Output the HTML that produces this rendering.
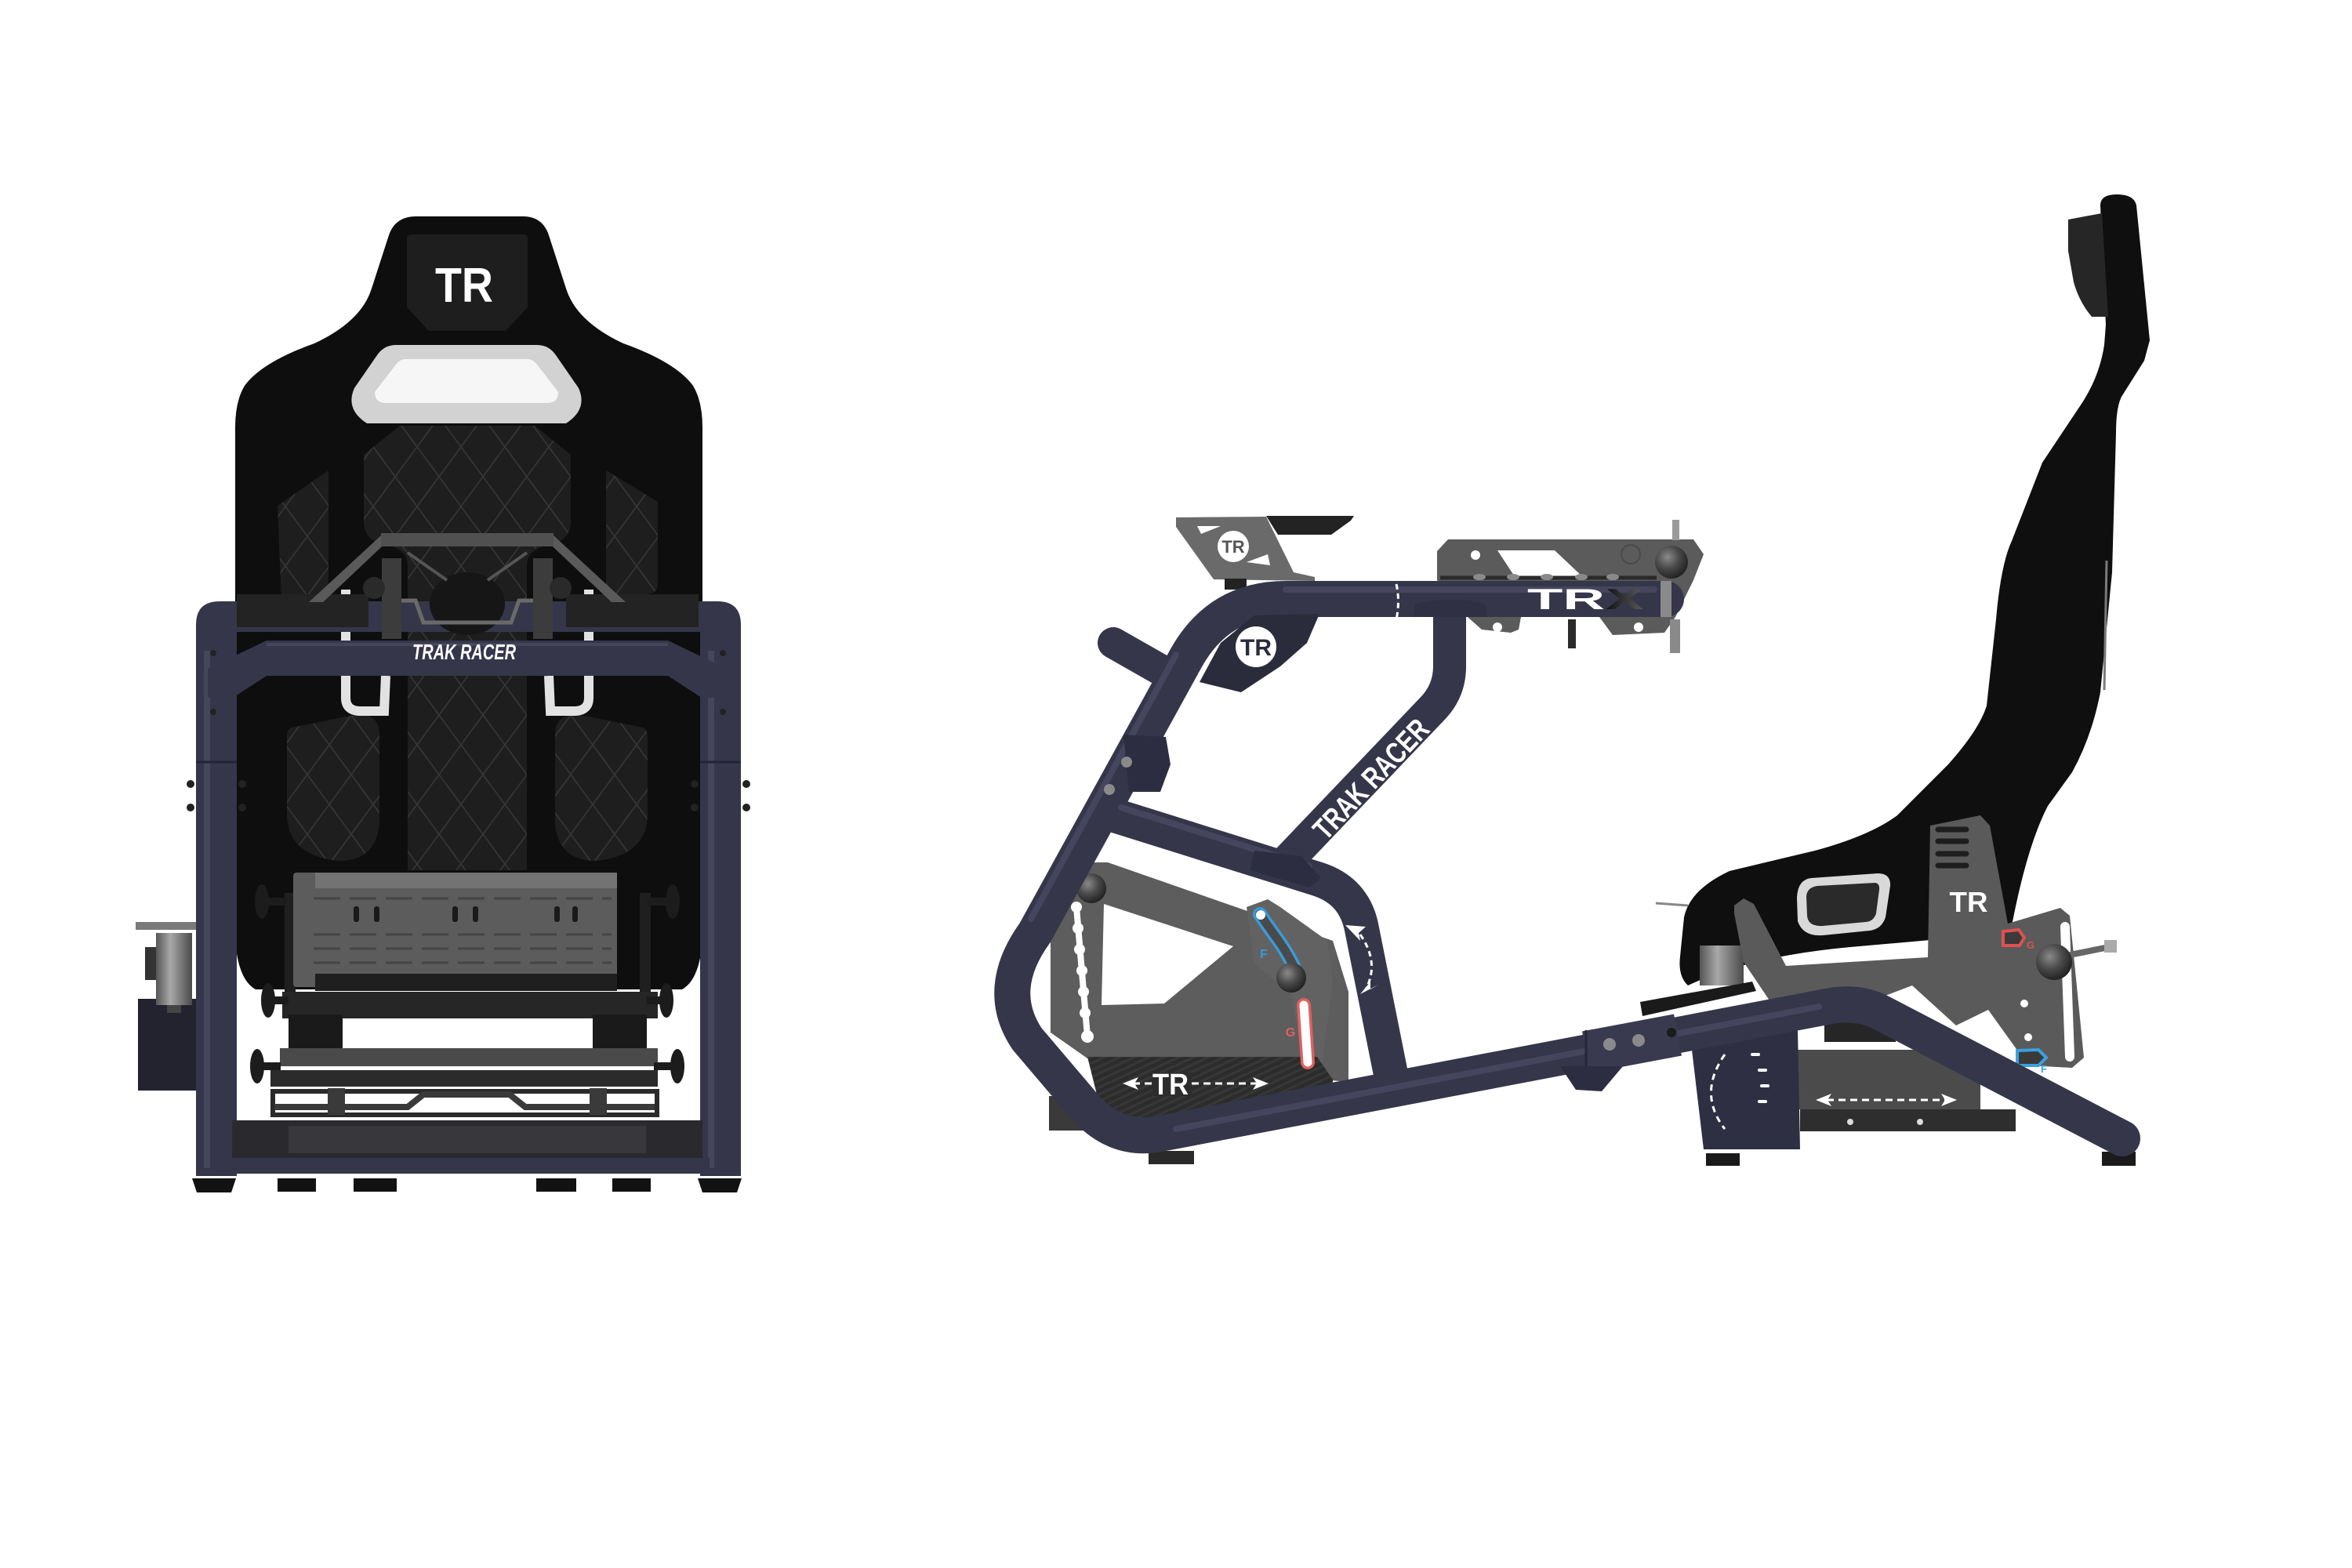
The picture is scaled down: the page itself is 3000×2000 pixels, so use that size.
<!DOCTYPE html>
<html>
<head>
<meta charset="utf-8">
<style>
html,body{margin:0;padding:0;background:#ffffff;}
svg{display:block}
</style>
</head>
<body>
<svg width="3000" height="2000" viewBox="0 0 3000 2000" xmlns="http://www.w3.org/2000/svg">
<defs>
  <pattern id="q" width="56" height="76" patternUnits="userSpaceOnUse">
    <rect width="56" height="76" fill="#1e1e1e"/>
    <path d="M0 0L56 76M56 0L0 76" stroke="#363636" stroke-width="1.6"/>
  </pattern>
  <pattern id="cf" width="8" height="8" patternUnits="userSpaceOnUse" patternTransform="rotate(65)">
    <rect width="8" height="8" fill="#2c2c2c"/>
    <rect width="3" height="8" fill="#373737"/>
  </pattern>
  <radialGradient id="ball" cx="0.38" cy="0.35" r="0.7">
    <stop offset="0" stop-color="#8a8a8a"/>
    <stop offset="0.5" stop-color="#4a4a4a"/>
    <stop offset="1" stop-color="#1e1e1e"/>
  </radialGradient>
  <linearGradient id="cyl" x1="0" x2="1" y1="0" y2="0">
    <stop offset="0" stop-color="#555"/>
    <stop offset="0.4" stop-color="#a8a8a8"/>
    <stop offset="1" stop-color="#4a4a4a"/>
  </linearGradient>
  <linearGradient id="xg" x1="0" x2="1" y1="0" y2="0">
    <stop offset="0" stop-color="#111"/>
    <stop offset="1" stop-color="#5a5a5a"/>
  </linearGradient>
</defs>

<rect width="3000" height="2000" fill="#ffffff"/>

<!-- ================= LEFT (FRONT) VIEW ================= -->
<path d="M531 276 L667 276 Q692 276 700 300 L722 368 Q735 410 795 438 Q862 462 884 492 Q896 512 896 545 L896 1200 Q892 1250 870 1262 L326 1262 Q304 1250 300 1200 L300 545 Q300 512 312 492 Q334 462 401 438 Q461 410 474 368 L496 300 Q504 276 531 276 Z" fill="#0e0e0e"/>
<path d="M525 299 L667 299 Q673 299 673 305 L673 392 L645 422 L547 422 L519 392 L519 305 Q519 299 525 299 Z" fill="#1e1e1e"/>
<text x="592" y="385" font-family="Liberation Sans, sans-serif" font-weight="bold" font-size="62" fill="#ffffff" text-anchor="middle" textLength="74" lengthAdjust="spacingAndGlyphs">TR</text>
<path d="M505 440 L685 440 Q700 440 709 453 L738 495 Q750 522 722 540 L468 540 Q440 522 452 495 L481 453 Q490 440 505 440 Z" fill="#d2d2d2"/>
<path d="M518 458 L672 458 Q680 458 685 465 L712 500 Q712 514 698 514 L492 514 Q478 514 478 500 L505 465 Q510 458 518 458 Z" fill="#f6f6f6"/>
<path d="M510 543 L682 543 L728 580 L728 665 Q728 690 700 695 Q672 700 672 722 L672 1110 L520 1110 L520 722 Q520 700 492 695 Q464 690 464 665 L464 580 Z" fill="url(#q)"/>
<path d="M419 600 L419 775 L370 800 Q360 800 360 790 L354 645 Z" fill="url(#q)"/>
<path d="M773 600 L839 640 L839 745 Q839 755 830 757 L773 770 Z" fill="url(#q)"/>
<path d="M372 928 L452 912 Q482 908 484 935 L484 1050 Q480 1098 432 1098 Q368 1092 366 1040 L366 940 Q366 930 372 928 Z" fill="url(#q)"/>
<path d="M820 928 L740 912 Q710 908 708 935 L708 1050 Q712 1098 760 1098 Q824 1092 826 1040 L826 940 Q826 930 820 928 Z" fill="url(#q)"/>
<path d="M441 752 L441 890 Q441 906 458 907 L490 907 L492 862" stroke="#e2e2e2" stroke-width="12" fill="none"/>
<path d="M751 752 L751 890 Q751 906 734 907 L702 907 L700 862" stroke="#e2e2e2" stroke-width="12" fill="none"/>

<!-- shifter mount -->
<path d="M176 1274 L302 1274 L302 1355 L262 1391 L176 1391 Z" fill="#22232f"/>
<rect x="173" y="1176" width="89" height="10" fill="#7a7a7a"/>
<rect x="199" y="1190" width="46" height="92" fill="url(#cyl)"/>
<rect x="185" y="1208" width="14" height="42" fill="#333"/>
<rect x="213" y="1282" width="18" height="10" fill="#444"/>

<!-- slider assembly -->
<rect x="363" y="1139" width="14" height="143" fill="#1f1f1f"/>
<rect x="816" y="1139" width="14" height="143" fill="#1f1f1f"/>
<rect x="374" y="1113" width="413" height="146" rx="4" fill="#5c5c5c"/>
<rect x="402" y="1113" width="385" height="20" fill="#737373"/>
<rect x="402" y="1242" width="385" height="22" fill="#1f1f1f"/>
<g stroke="#454545" stroke-width="3" stroke-dasharray="34 12">
  <line x1="400" y1="1146" x2="780" y2="1146"/>
  <line x1="400" y1="1192" x2="780" y2="1192"/>
  <line x1="400" y1="1210" x2="780" y2="1210"/>
  <line x1="400" y1="1228" x2="780" y2="1228"/>
</g>
<g fill="#1a1a1a">
  <rect x="451" y="1156" width="7" height="20" rx="3"/>
  <rect x="477" y="1156" width="7" height="20" rx="3"/>
  <rect x="577" y="1156" width="7" height="20" rx="3"/>
  <rect x="603" y="1156" width="7" height="20" rx="3"/>
  <rect x="707" y="1156" width="7" height="20" rx="3"/>
  <rect x="730" y="1156" width="7" height="20" rx="3"/>
</g>
<rect x="360" y="1265" width="479" height="34" fill="#262626"/>
<rect x="368" y="1294" width="69" height="43" fill="#1a1a1a"/>
<rect x="756" y="1294" width="69" height="43" fill="#1a1a1a"/>
<rect x="357" y="1337" width="482" height="23" fill="#4a4a4a"/>
<rect x="345" y="1365" width="494" height="21" fill="#2b2b2b"/>
<rect x="348" y="1392" width="490" height="30" fill="none" stroke="#2a2a2a" stroke-width="6"/>
<path d="M350 1412 L520 1412 L540 1396 L650 1396 L670 1412 L835 1412" stroke="#3a3a3a" stroke-width="8" fill="none"/>
<rect x="418" y="1388" width="22" height="34" fill="#3a3a3a"/>
<rect x="752" y="1388" width="22" height="34" fill="#3a3a3a"/>
<g fill="#1c1c1c">
  <rect x="338" y="1145" width="28" height="10"/><ellipse cx="334" cy="1150" rx="9" ry="22"/>
  <rect x="826" y="1145" width="28" height="10"/><ellipse cx="858" cy="1150" rx="9" ry="22"/>
  <rect x="344" y="1271" width="24" height="10"/><ellipse cx="342" cy="1276" rx="9" ry="22"/>
  <rect x="824" y="1271" width="24" height="10"/><ellipse cx="850" cy="1276" rx="9" ry="22"/>
  <rect x="330" y="1355" width="28" height="10"/><ellipse cx="328" cy="1360" rx="9" ry="22"/>
  <rect x="834" y="1355" width="28" height="10"/><ellipse cx="864" cy="1360" rx="9" ry="22"/>
</g>

<!-- frame -->
<path d="M250 1500 L250 797 Q250 767 280 767 L915 767 Q945 767 945 797 L945 1500 L893 1500 L893 806 L302 806 L302 1500 Z" fill="#35364a"/>
<line x1="264" y1="830" x2="264" y2="1490" stroke="#45465c" stroke-width="8"/>
<line x1="907" y1="830" x2="907" y2="1490" stroke="#45465c" stroke-width="8"/>
<line x1="250" y1="972" x2="302" y2="972" stroke="#23243a" stroke-width="3"/>
<line x1="893" y1="972" x2="945" y2="972" stroke="#23243a" stroke-width="3"/>
<g fill="#222">
  <circle cx="243" cy="1000" r="5"/><circle cx="243" cy="1030" r="5"/>
  <circle cx="309" cy="1000" r="5"/><circle cx="309" cy="1030" r="5"/>
  <circle cx="886" cy="1000" r="5"/><circle cx="886" cy="1030" r="5"/>
  <circle cx="952" cy="1000" r="5"/><circle cx="952" cy="1030" r="5"/>
</g>
<path d="M302 758 L470 758 L470 800 L302 800 Z" fill="#232323"/>
<path d="M722 758 L891 758 L891 800 L722 800 Z" fill="#232323"/>
<ellipse cx="596" cy="770" rx="48" ry="40" fill="#161616"/>
<path d="M520 705 L570 740 M672 705 L622 740" stroke="#555" stroke-width="4"/>
<path d="M486 683 L502 683 L412 768 L394 768 Z" fill="#5a5a5a"/>
<path d="M706 683 L690 683 L780 768 L798 768 Z" fill="#5a5a5a"/>
<rect x="486" y="680" width="220" height="17" fill="#505050"/>
<rect x="487" y="712" width="25" height="103" fill="#3c3c3c"/>
<rect x="680" y="712" width="25" height="103" fill="#3c3c3c"/>
<circle cx="477" cy="750" r="14" fill="#2a2a2a"/>
<circle cx="715" cy="750" r="14" fill="#2a2a2a"/>
<path d="M512 766 L530 766 L540 794 L652 794 L662 766 L680 766" stroke="#6a6a6a" stroke-width="5" fill="none"/>
<path d="M265 853 L340 817 L852 817 L927 853 L927 890 L895 890 L852 862 L340 862 L297 890 L265 890 Z" fill="#35364a"/>
<line x1="340" y1="822" x2="852" y2="822" stroke="#45465c" stroke-width="4"/>
<text x="592" y="841" font-family="Liberation Sans, sans-serif" font-weight="bold" font-style="italic" font-size="28" fill="#ffffff" text-anchor="middle" textLength="132" lengthAdjust="spacingAndGlyphs">TRAK RACER</text>
<g fill="#222"><circle cx="272" cy="833" r="4"/><circle cx="272" cy="908" r="4"/><circle cx="922" cy="833" r="4"/><circle cx="922" cy="908" r="4"/></g>
<rect x="296" y="1429" width="600" height="48" fill="#2a2a2e"/>
<rect x="368" y="1436" width="456" height="35" fill="#38383c"/>
<rect x="288" y="1477" width="617" height="20" fill="#35364a"/>
<g fill="#121212">
  <path d="M245 1503 L301 1503 L295 1521 L251 1521 Z"/>
  <rect x="354" y="1503" width="49" height="17"/>
  <rect x="451" y="1503" width="55" height="17"/>
  <rect x="684" y="1503" width="51" height="17"/>
  <rect x="781" y="1503" width="49" height="17"/>
  <path d="M890 1503 L946 1503 L940 1521 L896 1521 Z"/>
</g>

<!-- ================= RIGHT (SIDE) VIEW ================= -->
<rect x="1338" y="1398" width="65" height="44" fill="#3a3a3a"/>
<rect x="1465" y="1468" width="58" height="17" fill="#2a2a2a"/>
<path d="M1373 1100 L1413 1100 L1700 1200 L1720 1265 L1720 1380 L1387 1350 L1340 1317 L1340 1167 Z" fill="#5d5d5d"/>
<path d="M1408 1153 L1573 1207 L1485 1280 L1405 1282 Z" fill="#ffffff"/>
<path d="M1590 1157 L1617 1147 L1633 1157 L1693 1200 L1700 1253 L1685 1367 L1663 1363 L1647 1267 L1600 1230 Z" fill="#626262"/>
<path d="M1387 1348 L1680 1348 L1700 1377 L1700 1400 L1470 1450 L1440 1440 L1400 1400 Z" fill="url(#cf)"/>
<g fill="#ffffff">
  <line x1="1373" y1="1157" x2="1387" y2="1322" stroke="#fff" stroke-width="8"/>
  <circle cx="1373" cy="1157" r="7"/><circle cx="1375" cy="1184" r="7"/><circle cx="1377" cy="1211" r="7"/>
  <circle cx="1380" cy="1238" r="7"/><circle cx="1382" cy="1265" r="7"/><circle cx="1384" cy="1292" r="7"/><circle cx="1387" cy="1322" r="8"/>
</g>
<path d="M1607 1166 Q1620 1185 1628 1196 Q1640 1212 1650 1232" stroke="#3a9ad9" stroke-width="18" fill="none" stroke-linecap="round"/>
<path d="M1607 1166 Q1620 1185 1628 1196 Q1640 1212 1650 1232" stroke="#4a4a4a" stroke-width="11" fill="none" stroke-linecap="round"/>
<circle cx="1608" cy="1167" r="6" fill="#fff"/>
<path d="M1663 1282 L1668 1355" stroke="#e06060" stroke-width="18" fill="none" stroke-linecap="round"/>
<path d="M1663 1282 L1668 1355" stroke="#ffffff" stroke-width="11" fill="none" stroke-linecap="round"/>
<text x="1612" y="1222" font-family="Liberation Sans, sans-serif" font-weight="bold" font-size="16" fill="#3a9ad9" text-anchor="middle">F</text>
<text x="1646" y="1322" font-family="Liberation Sans, sans-serif" font-weight="bold" font-size="16" fill="#e06060" text-anchor="middle">G</text>
<circle cx="1392" cy="1133" r="19" fill="url(#ball)"/>
<circle cx="1647" cy="1247" r="19" fill="url(#ball)"/>
<line x1="1445" y1="1382" x2="1605" y2="1382" stroke="#fff" stroke-width="3" stroke-dasharray="9 6"/>
<path d="M1432 1382 L1452 1374 L1447 1382 L1452 1390 Z" fill="#fff"/>
<path d="M1618 1382 L1598 1374 L1603 1382 L1598 1390 Z" fill="#fff"/>
<rect x="1470" y="1368" width="50" height="30" fill="#2c2c2c"/>
<text x="1493" y="1396" font-family="Liberation Sans, sans-serif" font-weight="bold" font-size="38" fill="#ffffff" text-anchor="middle" textLength="46" lengthAdjust="spacingAndGlyphs">TR</text>

<path d="M1500 660 L1615 659 L1650 730 L1677 736 L1677 741 L1548 739 L1500 672 Z" fill="#6a6a6a"/>
<circle cx="1573" cy="697" r="20" fill="#fff"/>
<text x="1573" y="705" font-family="Liberation Sans, sans-serif" font-weight="bold" font-size="22" fill="#555" text-anchor="middle">TR</text>
<path d="M1527 671 L1557 671 L1532 681 Z" fill="#fff"/>
<path d="M1590 717 L1617 707 L1620 721 Z" fill="#fff"/>
<path d="M1615 658 L1727 658 L1723 664 L1698 682 L1630 682 Z" fill="#232323"/>
<rect x="1562" y="738" width="28" height="14" fill="#222"/>

<path d="M1833 703 L1847 688 L2160 688 L2173 707 L2160 740 L2137 787 L2123 807 L2057 810 L2040 787 L1940 787 L1937 803 L1927 807 L1890 803 L1873 788 L1833 740 Z" fill="#5b5b5b"/>
<path d="M1910 702 L1983 702 L2020 737 L1933 737 Z" fill="#ffffff"/>
<circle cx="2080" cy="707" r="12" fill="none" stroke="#4a4a4a" stroke-width="2"/>
<circle cx="1882" cy="708" r="6" fill="#fff"/><circle cx="1910" cy="800" r="6" fill="#fff"/><circle cx="2090" cy="800" r="6" fill="#fff"/>
<rect x="2133" y="663" width="9" height="26" fill="#9a9a9a"/>
<rect x="2130" y="790" width="13" height="43" fill="#8a8a8a"/>
<rect x="2000" y="790" width="10" height="37" fill="#2a2a2a"/>
<circle cx="2132" cy="717" r="21" fill="url(#ball)"/>
<line x1="1837" y1="737" x2="2113" y2="737" stroke="#2a2a2a" stroke-width="5"/>
<g fill="#8a8a8a"><ellipse cx="1887" cy="736" rx="8" ry="4"/><ellipse cx="1930" cy="736" rx="8" ry="4"/><ellipse cx="1973" cy="736" rx="8" ry="4"/><ellipse cx="2017" cy="736" rx="8" ry="4"/><ellipse cx="2057" cy="736" rx="8" ry="4"/></g>

<!-- seat shell (right) -->
<path d="M2679 262 Q2679 248 2700 248 Q2722 248 2725 262 L2742 434 L2735 460 L2706 506 Q2699 520 2699 552 L2694 730 L2679 883 Q2668 940 2643 985 L2612 1028 Q2585 1080 2565 1186 L2541 1192 L2360 1208 Q2230 1220 2153 1257 Q2140 1245 2143 1220 L2148 1170 Q2155 1135 2206 1111 L2315 1085 Q2385 1066 2420 1040 L2485 975 Q2525 930 2534 900 L2546 790 Q2552 720 2566 690 L2605 590 L2655 515 Q2678 480 2684 440 L2686 414 Z" fill="#0f0f0f"/>
<path d="M2638 280 L2681 272 L2689 404 L2668 404 Q2652 385 2645 360 L2638 320 Z" fill="#262626"/>
<line x1="2687" y1="715" x2="2684" y2="880" stroke="#7a7a7a" stroke-width="3"/>
<path d="M2310 1120 L2395 1114 Q2412 1114 2411 1130 L2405 1170 Q2400 1185 2385 1187 L2325 1193 Q2300 1195 2293 1175 L2292 1145 Q2293 1122 2310 1120 Z" fill="#d9d9d9"/>
<path d="M2318 1130 L2392 1126 Q2398 1127 2397 1135 L2393 1165 Q2390 1175 2380 1176 L2325 1181 Q2306 1182 2305 1168 L2304 1143 Q2305 1132 2318 1130 Z" fill="#2a2a2a"/>
<rect x="2168" y="1206" width="56" height="51" fill="url(#cyl)"/>
<line x1="2112" y1="1152" x2="2153" y2="1155" stroke="#888" stroke-width="3"/>
<path d="M2092 1278 L2235 1252 L2240 1264 L2095 1296 Z" fill="#1a1a1a"/>
<path d="M2212 1155 L2224 1146 L2237 1153 L2278 1232 L2459 1221 L2462 1053 L2526 1040 L2538 1053 L2561 1178 L2628 1158 L2640 1168 L2658 1349 L2643 1362 L2587 1359 L2536 1288 L2495 1308 L2439 1257 L2357 1288 L2265 1288 L2224 1227 L2212 1165 Z" fill="#5a5a5a"/>
<g stroke="#1e1e1e" stroke-width="7" stroke-linecap="round">
  <line x1="2472" y1="1058" x2="2508" y2="1058"/><line x1="2472" y1="1073" x2="2508" y2="1073"/>
  <line x1="2472" y1="1089" x2="2508" y2="1089"/><line x1="2472" y1="1104" x2="2508" y2="1104"/>
</g>
<text x="2511" y="1163" font-family="Liberation Sans, sans-serif" font-weight="bold" font-size="36" fill="#ffffff" text-anchor="middle" textLength="49" lengthAdjust="spacingAndGlyphs">TR</text>
<path d="M2634 1182 L2640 1348" stroke="#ffffff" stroke-width="12" stroke-linecap="round"/>
<circle cx="2582" cy="1280" r="5" fill="#fff"/><circle cx="2587" cy="1323" r="5" fill="#fff"/>
<path d="M2555 1188 L2575 1186 L2582 1196 L2576 1206 L2555 1206 Z" fill="#3a3a3a" stroke="#e05050" stroke-width="4"/>
<text x="2590" y="1210" font-family="Liberation Sans, sans-serif" font-weight="bold" font-size="13" fill="#e05050" text-anchor="middle">G</text>
<path d="M2573 1340 L2600 1339 L2610 1349 L2600 1359 L2573 1359 Z" fill="#3a3a3a" stroke="#3aa0e0" stroke-width="4"/>
<text x="2607" y="1368" font-family="Liberation Sans, sans-serif" font-weight="bold" font-size="13" fill="#3aa0e0" text-anchor="middle">F</text>
<line x1="2640" y1="1218" x2="2690" y2="1208" stroke="#666" stroke-width="8"/>
<rect x="2684" y="1199" width="16" height="16" fill="#aaa"/>
<circle cx="2620" cy="1227" r="23" fill="url(#ball)"/>
<rect x="2327" y="1293" width="91" height="36" fill="#262626"/>
<rect x="2293" y="1339" width="233" height="76" fill="#4b4b4b"/>
<rect x="2296" y="1415" width="275" height="28" fill="#2e2e2e"/>
<line x1="2330" y1="1403" x2="2482" y2="1403" stroke="#fff" stroke-width="3" stroke-dasharray="9 6"/>
<path d="M2316 1403 L2336 1395 L2331 1403 L2336 1411 Z" fill="#fff"/>
<path d="M2496 1403 L2476 1395 L2481 1403 L2476 1411 Z" fill="#fff"/>
<circle cx="2360" cy="1431" r="4" fill="#ddd"/><circle cx="2449" cy="1431" r="4" fill="#ddd"/>
<path d="M2158 1339 L2293 1313 L2296 1466 L2173 1466 Z" fill="#2e2f42"/>
<path d="M2200 1345 Q2165 1395 2200 1440" stroke="#fff" stroke-width="3" stroke-dasharray="8 6" fill="none"/>
<g stroke="#fff" stroke-width="4" stroke-linecap="round">
  <line x1="2235" y1="1345" x2="2243" y2="1345"/><line x1="2244" y1="1365" x2="2252" y2="1365"/>
  <line x1="2247" y1="1385" x2="2255" y2="1385"/><line x1="2244" y1="1405" x2="2252" y2="1405"/>
</g>
<rect x="2176" y="1471" width="43" height="16" fill="#1a1a1a"/>
<rect x="2681" y="1469" width="43" height="18" fill="#1a1a1a"/>

<!-- tubes (right view) -->
<g fill="none" stroke="#35364a" stroke-linecap="round" stroke-linejoin="round">
  <path d="M2125 764 L1640 764 Q1554 764 1512 841 L1320 1190 Q1268 1262 1310 1325 L1378 1405 Q1420 1458 1480 1446 L2330 1284 Q2370 1276 2400 1292 L2707 1452" stroke-width="46"/>
  <path d="M1415 1038 L1680 1121 Q1728 1136 1737 1185 L1778 1390" stroke-width="44"/>
  <path d="M1849 765 L1849 850 Q1849 882 1826 905 L1640 1100" stroke-width="42"/>
  <path d="M1420 820 L1478 853" stroke-width="40"/>
</g>
<g fill="none" stroke="#45465d" stroke-width="8" stroke-linecap="round">
  <path d="M2110 752 L1640 752"/>
  <path d="M1500 1440 L2320 1284"/>
  <path d="M1500 835 L1315 1172"/>
  <path d="M1430 1030 L1670 1105"/>
</g>
<path d="M2023 1342 L2140 1320" stroke="#393a50" stroke-width="54" stroke-linecap="butt"/>
<line x1="2023" y1="1314" x2="2023" y2="1370" stroke="#24253a" stroke-width="3"/>
<path d="M1990 1360 L2070 1360 L2043 1392 L2010 1390 Z" fill="#2c2d40"/>
<circle cx="2053" cy="1332" r="8" fill="#8a8a8a"/><circle cx="2090" cy="1327" r="8" fill="#8a8a8a"/><circle cx="2132" cy="1317" r="6" fill="#1a1a1a"/>
<rect x="2118" y="741" width="14" height="46" fill="#8a8a8a"/>
<text x="1948" y="777" font-family="Liberation Sans, sans-serif" font-weight="bold" font-size="37" fill="#ffffff" textLength="99" lengthAdjust="spacingAndGlyphs">TR</text>
<text x="2048" y="777" font-family="Liberation Sans, sans-serif" font-weight="bold" font-size="37" fill="url(#xg)" textLength="48" lengthAdjust="spacingAndGlyphs">X</text>
<path d="M1781 745 Q1786 767 1781 790" stroke="#fff" stroke-width="3" stroke-dasharray="7 5" fill="none"/>
<path d="M1805 770 Q1849 760 1895 770 L1897 787 L1803 787 Z" fill="#2f3044"/>
<path d="M1557 820 L1600 785 L1683 783 L1667 820 L1633 850 L1583 883 L1530 870 Z" fill="#2a2b3b"/>
<circle cx="1602" cy="825" r="26" fill="#ffffff"/>
<text x="1602" y="836" font-family="Liberation Sans, sans-serif" font-weight="bold" font-size="30" fill="#2a2b3b" text-anchor="middle">TR</text>
<path d="M1433 937 L1487 940 L1493 975 L1480 1010 L1440 1010 Z" fill="#2c2d40"/>
<circle cx="1437" cy="972" r="7" fill="#8a8a8a"/><circle cx="1415" cy="1007" r="7" fill="#8a8a8a"/>
<path d="M1600 1085 L1660 1092 L1685 1120 L1670 1132 L1595 1110 Z" fill="#2c2d40"/>
<text transform="translate(1748,993) rotate(-46.5)" x="0" y="14" font-family="Liberation Sans Narrow, Liberation Sans, sans-serif" font-weight="bold" font-size="38" fill="#ffffff" text-anchor="middle" textLength="195" lengthAdjust="spacingAndGlyphs">TRAK RACER</text>
<path d="M1735 1192 Q1760 1228 1742 1262" stroke="#fff" stroke-width="3" stroke-dasharray="7 5" fill="none"/>
<path d="M1716 1180 L1742 1182 L1733 1190 L1735 1200 Z" fill="#fff"/>
<path d="M1735 1268 L1758 1256 L1748 1262 L1748 1252 Z" fill="#fff"/>
</svg>
</body>
</html>
